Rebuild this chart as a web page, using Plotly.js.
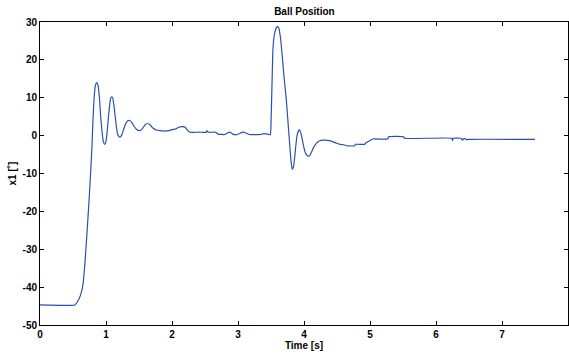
<!DOCTYPE html>
<html>
<head>
<meta charset="utf-8">
<script src="https://cdn.plot.ly/plotly-3.0.1.min.js"></script>
<style>html,body{margin:0;padding:0;background:#fff;}#chart{width:569px;height:354px;}</style>
</head>
<body>
<div id="chart"></div>
<script>
var timeS = [0, 0.53, 0.57, 0.61, 0.65, 0.68, 0.715, 0.75, 0.785, 0.80, 0.82, 0.84, 0.86, 0.88, 0.90, 0.92, 0.94, 0.96, 0.98, 1.00, 1.02, 1.04, 1.06, 1.08, 1.10, 1.12, 1.14, 1.16, 1.18, 1.21, 1.24, 1.27, 1.30, 1.33, 1.36, 1.39, 1.42, 1.46, 1.51, 1.55, 1.59, 1.63, 1.67, 1.71, 1.76, 1.82, 1.89, 1.95, 2.00, 2.05, 2.10, 2.16, 2.20, 2.23, 2.27, 2.40, 2.52, 2.53, 2.55, 2.66, 2.70, 2.80, 2.84, 2.88, 2.92, 2.97, 3.02, 3.07, 3.12, 3.17, 3.35, 3.38, 3.45, 3.49, 3.50, 3.51, 3.52, 3.53, 3.55, 3.58, 3.60, 3.62, 3.64, 3.66, 3.68, 3.70, 3.73, 3.76, 3.78, 3.80, 3.82, 3.84, 3.86, 3.88, 3.90, 3.93, 3.96, 3.99, 4.02, 4.05, 4.08, 4.11, 4.14, 4.18, 4.23, 4.30, 4.39, 4.45, 4.50, 4.54, 4.60, 4.66, 4.77, 4.78, 4.92, 4.94, 4.99, 5.04, 5.27, 5.28, 5.51, 5.52, 6.24, 6.25, 6.26, 6.38, 6.40, 6.42, 6.44, 6.46, 6.48, 7.5];
var ballPos = [-44.7, -44.7, -43.8, -42.3, -39.5, -33.8, -24.9, -15.2, -3.8, 3, 10, 13.3, 14.0, 13.2, 10, 5, 1, -1.6, -2.3, -1.5, 1.5, 5.5, 8.8, 10.2, 10.0, 8, 5, 2, 0.2, -0.4, 0.2, 1.8, 3.2, 3.9, 4.0, 3.5, 2.6, 1.7, 1.3, 1.8, 2.8, 3.2, 2.8, 2.0, 1.5, 1.3, 1.2, 1.3, 1.6, 1.7, 2.2, 2.4, 2.2, 1.5, 0.9, 0.9, 0.9, 1.3, 0.9, 0.9, 0.4, 0.3, 0.7, 0.9, 0.4, 0.2, 0.5, 0.9, 0.7, 0.3, 0.3, 0.5, 0.4, 0.2, 3, 9.9, 17, 23, 26.5, 28.5, 28.8, 28.3, 26.3, 23, 19, 15, 9.9, 3, -1.6, -6, -8.9, -8.3, -5.5, -2, 0.5, 1.5, 0.2, -2.5, -4.5, -5.3, -5.4, -4.5, -3.3, -2.2, -1.4, -1.2, -1.3, -1.7, -2.0, -2.3, -2.4, -2.7, -2.7, -2.3, -2.3, -1.9, -1.4, -0.9, -0.9, -0.3, -0.3, -0.7, -0.7, -1.3, -0.7, -0.7, -1.2, -0.8, -0.8, -1.1, -1.0, -1.0];
var xTicks = [0, 1, 2, 3, 4, 5, 6, 7, 8];
var xTickText = ['0', '1', '2', '3', '4', '5', '6', '7', '8'];
var yTicks = [-50, -40, -30, -20, -10, 0, 10, 20, 30];
var yTickText = ['-50', '-40', '-30', '-20', '-10', '0', '10', '20', '30'];

var font = 'Liberation Sans, Arial, sans-serif';
var trace = {
  x: timeS, y: ballPos, mode: 'lines', type: 'scatter',
  line: {color: '#2d4fb0', width: 1.2, shape: 'spline', smoothing: 0.4},
  hoverinfo: 'none'
};
var axisBase = {
  showline: true, linecolor: '#000', linewidth: 1, mirror: 'ticks',
  ticks: 'inside', ticklen: 4, tickcolor: '#000', tickwidth: 1,
  showgrid: false, zeroline: false, fixedrange: true,
  tickfont: {family: font, size: 10, color: '#000', weight: 'bold'}
};
var layout = {
  width: 569, height: 354,
  margin: {l: 40, r: 1, t: 22, b: 29, pad: 0},
  paper_bgcolor: '#fff', plot_bgcolor: '#fff',
  showlegend: false,
  title: {text: '<b>Ball Position</b>', font: {family: font, size: 10, color: '#000'}, x: 0.535, xanchor: 'center', y: 0.968, yanchor: 'middle'},
  xaxis: Object.assign({}, axisBase, {
    range: [0, 8], tickvals: xTicks, ticktext: xTickText,
    title: {text: '<b>Time [s]</b>', font: {family: font, size: 10, color: '#000'}, standoff: 2}
  }),
  yaxis: Object.assign({}, axisBase, {
    range: [-50, 30], tickvals: yTicks, ticktext: yTickText,
    title: {text: '<b>x1 [˚]</b>', font: {family: font, size: 10, color: '#000'}, standoff: 4}
  })
};
Plotly.newPlot('chart', [trace], layout, {staticPlot: true, displayModeBar: false});
</script>
</body>
</html>
